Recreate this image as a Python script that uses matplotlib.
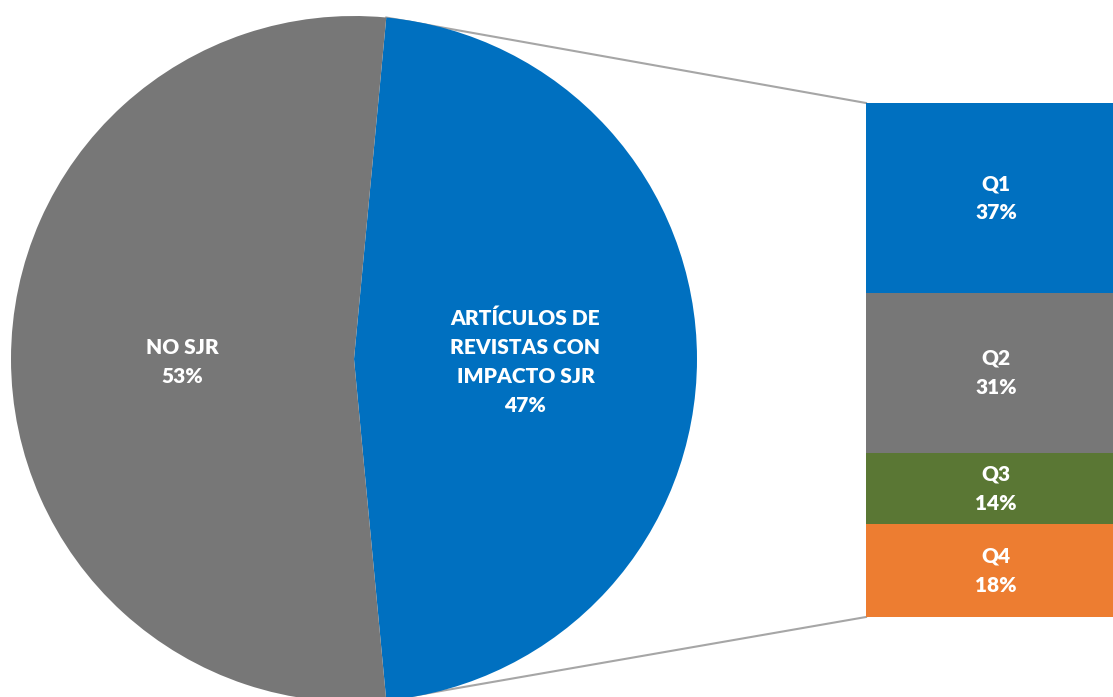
import matplotlib
matplotlib.use("Agg")
import matplotlib.pyplot as plt
import numpy as np

pie_labels = ["ARTÍCULOS DE\nREVISTAS CON\nIMPACTO SJR", "NO SJR"]
pie_values = [47, 53]
pie_colors = ["#0070C0", "#777777"]

bar_labels = ["Q1", "Q2", "Q3", "Q4"]
bar_values = [37, 31, 14, 18]
bar_colors = ["#0070C0", "#777777", "#5A7734", "#ED7D31"]

W, H = 1113, 697
fig = plt.figure(figsize=(W / 100, H / 100), dpi=100)
ax = fig.add_axes([0, 0, 1, 1])

font = dict(family=["Lato", "DejaVu Sans"], weight="heavy", color="white", size=15)

cx, cy, r = 354, 338, 343
total = sum(pie_values)
start = pie_values[0] / total * 180
wedges, texts = ax.pie(pie_values, colors=pie_colors, startangle=start,
                       counterclock=False, center=(cx, cy), radius=r,
                       labels=[f"{l}\n{v}%" for l, v in zip(pie_labels, pie_values)],
                       labeldistance=0.5, textprops=font,
                       wedgeprops=dict(linewidth=0), frame=True)
for t in texts:
    t.set_horizontalalignment("center")
    t.set_verticalalignment("center")
    t.set_linespacing(1.63)
    x, y = t.get_position()
    t.set_position((x, y - 3))
ax.set_xlim(0, W)
ax.set_ylim(0, H)
ax.set_aspect("equal")
ax.axis("off")

# bar of pie
bx0, bx1 = 866, 1120
btop, bbot = 594, 80
bh = btop - bbot
btotal = sum(bar_values)
heights = [v / btotal * bh for v in bar_values]
bottoms = btop - np.cumsum(heights)
ax.bar([(bx0 + bx1) / 2] * len(bar_values), heights, width=bx1 - bx0,
       bottom=bottoms, color=bar_colors, linewidth=0)
for lab, v, h, b in zip(bar_labels, bar_values, heights, bottoms):
    ax.text(996, b + h / 2, f"{lab}\n{v}%", ha="center", va="center",
            linespacing=1.63, **font)

# connector lines
a1 = np.deg2rad(start)
a2 = np.deg2rad(-start)
ax.plot([cx + r * np.cos(a1), bx0], [cy + r * np.sin(a1), btop],
        color="#A6A6A6", lw=1.5, zorder=0.5)
ax.plot([cx + r * np.cos(a2), bx0], [cy + r * np.sin(a2), bbot],
        color="#A6A6A6", lw=1.5, zorder=0.5)

fig.savefig("out.png", dpi=100, facecolor="white")
